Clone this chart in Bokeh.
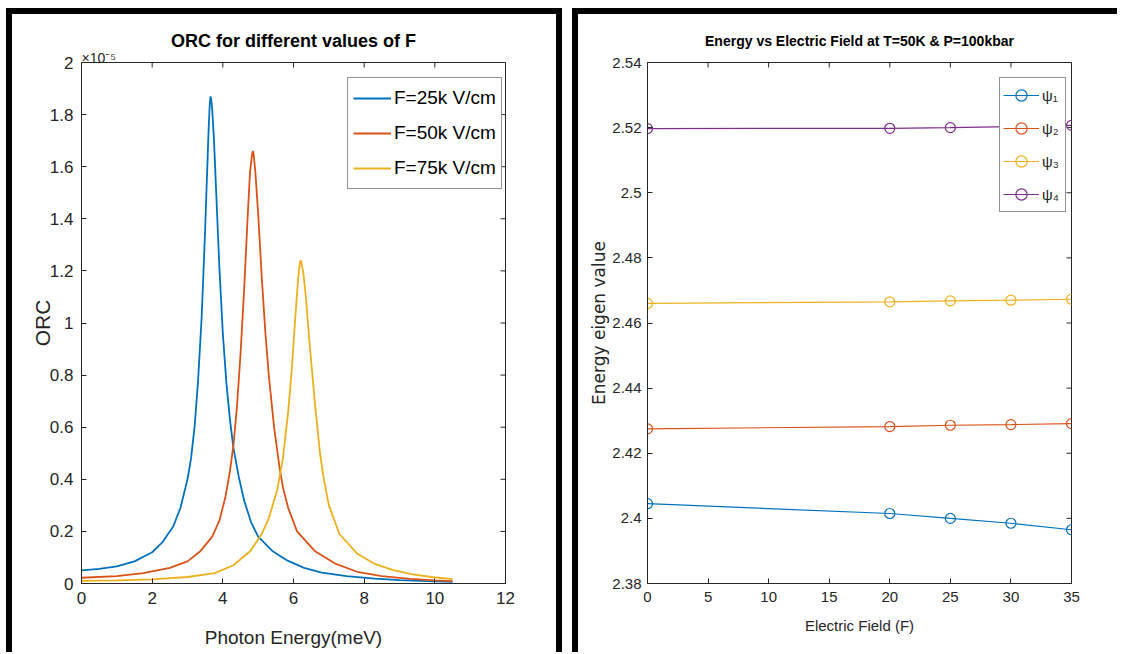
import math
from bokeh.plotting import figure
from bokeh.models import Range1d, FixedTicker, Legend, LegendItem, Title, NumeralTickFormatter
from bokeh.layouts import row
from bokeh.embed import file_html
from bokeh.resources import INLINE

# ---------------- Left chart: ORC (values in units of 1e-5) ----------------
blue_x = [0, 0.5, 1.0, 1.5, 2.0, 2.3, 2.6, 2.8, 3.0, 3.1, 3.2, 3.3, 3.4, 3.5, 3.55, 3.6, 3.63,
          3.65, 3.67, 3.7, 3.75, 3.8, 3.9, 4.0, 4.1, 4.2, 4.3, 4.45, 4.6, 4.8, 5.0, 5.4, 5.8,
          6.3, 6.8, 7.5, 8.3, 9.0, 9.8, 10.5]
blue_y = [0.050, 0.056, 0.066, 0.085, 0.12, 0.16, 0.22, 0.29, 0.40, 0.48, 0.60, 0.78, 1.02,
          1.36, 1.56, 1.75, 1.84, 1.87, 1.86, 1.82, 1.70, 1.54, 1.22, 0.96, 0.77, 0.63, 0.52,
          0.41, 0.32, 0.235, 0.18, 0.125, 0.09, 0.06, 0.042, 0.028, 0.019, 0.013, 0.009, 0.006]

red_x = [0, 1.0, 1.75, 2.5, 3.0, 3.37, 3.7, 3.9, 4.07, 4.2, 4.3, 4.4, 4.5, 4.6, 4.7, 4.77,
         4.83, 4.85, 4.87, 4.92, 5.0, 5.1, 5.2, 5.3, 5.45, 5.6, 5.7, 5.85, 6.1, 6.6, 7.2, 7.8,
         8.5, 9.3, 10.0, 10.5]
red_y = [0.022, 0.028, 0.04, 0.06, 0.085, 0.125, 0.18, 0.24, 0.33, 0.43, 0.53, 0.68, 0.88,
         1.12, 1.40, 1.58, 1.65, 1.66, 1.65, 1.58, 1.42, 1.18, 0.97, 0.80, 0.60, 0.45, 0.37,
         0.29, 0.20, 0.125, 0.075, 0.045, 0.028, 0.018, 0.012, 0.009]

yellow_x = [0, 1.0, 2.0, 3.0, 3.77, 4.3, 4.78, 5.1, 5.3, 5.54, 5.7, 5.85, 5.95, 6.05, 6.13,
            6.18, 6.2, 6.22, 6.28, 6.35, 6.45, 6.6, 6.75, 6.86, 7.0, 7.3, 7.8, 8.3, 8.8, 9.33,
            9.9, 10.5]
yellow_y = [0.010, 0.012, 0.016, 0.025, 0.04, 0.07, 0.125, 0.19, 0.25, 0.36, 0.48, 0.66,
            0.82, 1.02, 1.17, 1.23, 1.24, 1.235, 1.19, 1.10, 0.93, 0.70, 0.50, 0.40, 0.30,
            0.19, 0.115, 0.075, 0.052, 0.036, 0.025, 0.017]

orc_labels = ["F=25k V/cm", "F=50k V/cm", "F=75k V/cm"]
orc_colors = ["#0072BD", "#D95319", "#EDB120"]
left_xticks = [0, 2, 4, 6, 8, 10, 12]
left_yticks = [0, 0.2, 0.4, 0.6, 0.8, 1.0, 1.2, 1.4, 1.6, 1.8, 2.0]
left_xlim = (0, 12)
left_ylim = (0, 2)

# ---------------- Right chart: energy eigen values ----------------
field = [0, 20, 25, 30, 35]
psi1 = [2.4045, 2.4015, 2.4000, 2.3985, 2.3965]
psi2 = [2.4275, 2.4282, 2.4286, 2.4288, 2.4291]
psi3 = [2.4660, 2.4665, 2.4668, 2.4670, 2.4673]
psi4 = [2.5197, 2.5198, 2.5200, 2.5203, 2.5207]
psi_labels = ["\u03c8\u2081", "\u03c8\u2082", "\u03c8\u2083", "\u03c8\u2084"]
psi_colors = ["#0072BD", "#D95319", "#EDB120", "#7E2F8E"]
right_xticks = [0, 5, 10, 15, 20, 25, 30, 35]
right_yticks = [2.38, 2.40, 2.42, 2.44, 2.46, 2.48, 2.50, 2.52, 2.54]
right_xlim = (0, 35)
right_ylim = (2.38, 2.54)

AX = "#262626"
SANS = "Liberation Sans"


def style_axes(p, xticks, yticks, xlim, ylim, tick_size, standoff):
    p.xgrid.visible = False
    p.ygrid.visible = False
    p.outline_line_color = AX
    p.outline_line_width = 1
    p.xaxis.ticker = FixedTicker(ticks=xticks)
    p.yaxis.ticker = FixedTicker(ticks=yticks)
    p.yaxis.formatter = NumeralTickFormatter(format="0.[00]")
    for ax in p.axis:
        ax.axis_line_color = AX
        ax.major_tick_line_color = AX
        ax.major_tick_in = 5
        ax.major_tick_out = 0
        ax.minor_tick_line_color = None
        ax.major_label_text_color = AX
        ax.major_label_text_font = SANS
        ax.major_label_text_font_size = tick_size
        ax.major_label_standoff = standoff
        ax.axis_label_text_color = AX
        ax.axis_label_text_font_style = "normal"
    # mirrored inward ticks on the top and right edges (MATLAB "box on")
    p.ray(x=xticks, y=[ylim[1]] * len(xticks), length=5, length_units="screen",
          angle=-math.pi / 2, line_color=AX, line_width=1)
    p.ray(x=[xlim[1]] * len(yticks), y=yticks, length=5, length_units="screen",
          angle=math.pi, line_color=AX, line_width=1)


# ---------------- Left figure ----------------
p1 = figure(width=556, height=644, output_backend="svg", toolbar_location=None,
            x_range=Range1d(*left_xlim), y_range=Range1d(*left_ylim),
            min_border_left=69, min_border_right=63, min_border_top=47, min_border_bottom=72)
style_axes(p1, left_xticks, left_yticks, left_xlim, left_ylim, "17px", 8)
p1.xaxis.axis_label = "Photon Energy(meV)"
p1.xaxis.axis_label_text_font = SANS
p1.xaxis.axis_label_text_font_size = "19px"
p1.xaxis.axis_label_standoff = 20
p1.yaxis.axis_label = "ORC"
p1.yaxis.axis_label_text_font = SANS
p1.yaxis.axis_label_text_font_size = "21px"
p1.yaxis.axis_label_standoff = -7

items = []
for xs, ys, lab, col in zip([blue_x, red_x, yellow_x], [blue_y, red_y, yellow_y], orc_labels, orc_colors):
    r = p1.line(xs, ys, line_color=col, line_width=1.8)
    items.append(LegendItem(label=lab, renderers=[r]))
leg1 = Legend(items=items, location=(266, 394), label_text_font=SANS, label_text_font_size="19px",
              label_text_color="black", glyph_width=38, glyph_height=30, label_height=30,
              spacing=5, padding=5, label_standoff=3, border_line_color=AX, border_line_width=1,
              margin=0, background_fill_alpha=1)
p1.add_layout(leg1, "center")

p1.title.text = "ORC for different values of F"
p1.title.align = "center"
p1.title.text_font = SANS
p1.title.text_font_size = "18px"
p1.title.text_font_style = "bold"
p1.title.text_color = "black"
p1.title.standoff = 0
p1.add_layout(Title(text="\u00d710\u207b\u2075", align="left", text_font=SANS,
                    text_font_size="14px", text_font_style="normal", text_color=AX,
                    standoff=-6), "above")

# ---------------- Right figure ----------------
p2 = figure(width=545, height=644, output_backend="svg", toolbar_location=None,
            x_range=Range1d(*right_xlim), y_range=Range1d(*right_ylim),
            min_border_left=69, min_border_right=52, min_border_top=48, min_border_bottom=75)
style_axes(p2, right_xticks, right_yticks, right_xlim, right_ylim, "15px", 8)
p2.yaxis.major_label_standoff = 6
p2.xaxis.axis_label = "Electric Field (F)"
p2.xaxis.axis_label_text_font = SANS
p2.xaxis.axis_label_text_font_size = "15px"
p2.xaxis.axis_label_standoff = 12
p2.yaxis.axis_label = "Energy eigen value"
p2.yaxis.axis_label_text_font = "DejaVu Sans"
p2.yaxis.axis_label_text_font_size = "17px"
p2.yaxis.axis_label_standoff = 0

items2 = []
for ys, lab, col in zip([psi1, psi2, psi3, psi4], psi_labels, psi_colors):
    ln = p2.line(field, ys, line_color=col, line_width=1.2)
    sc = p2.scatter(field, ys, marker="circle", size=10, fill_color=None, line_color=col, line_width=1.2)
    items2.append(LegendItem(label=lab, renderers=[ln, sc]))
leg2 = Legend(items=items2, location=(352, 371), label_text_font=SANS, label_text_font_size="15px",
              label_text_color=AX, glyph_width=36, glyph_height=28, label_height=28,
              spacing=5, padding=3, label_standoff=3, border_line_color=AX, border_line_width=1,
              margin=0, background_fill_alpha=1)
p2.add_layout(leg2, "center")

p2.title.text = "Energy vs Electric Field at T=50K & P=100kbar"
p2.title.align = "center"
p2.title.text_font = SANS
p2.title.text_font_size = "14px"
p2.title.text_font_style = "bold"
p2.title.text_color = "black"
p2.title.standoff = 28

p1.styles = {"border-top": "6px solid black", "border-left": "6px solid black",
             "border-right": "6px solid black"}
p2.styles = {"border-top": "6px solid black", "border-left": "6px solid black"}

layout = row(p1, p2, spacing=10, margin=(8, 0, 0, 6))
open("out.html", "w").write(file_html(layout, INLINE))
